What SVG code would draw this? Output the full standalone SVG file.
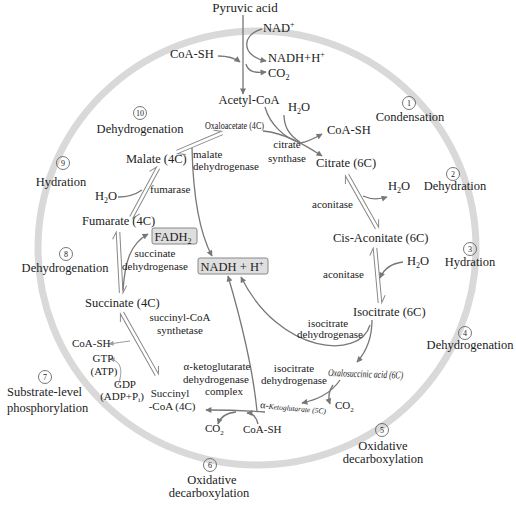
<svg xmlns="http://www.w3.org/2000/svg" width="516" height="506" viewBox="0 0 516 506">
<style>
text{font-family:"Liberation Serif","Times New Roman",serif;fill:#222}
.m{font-size:12.5px}
.s{font-size:11px}
.mid{text-anchor:middle}
.num{font-size:8px;text-anchor:middle}
.nc{fill:none;stroke:#555;stroke-width:0.8}
.ar{fill:none;stroke:#777;stroke-width:1.3;marker-end:url(#ah)}
.ln{fill:none;stroke:#777;stroke-width:1.3}
.lt{fill:none;stroke:#999;stroke-width:1;marker-end:url(#ahl)}
.hp{fill:none;stroke:#888;stroke-width:1}
.box{fill:#dedede;stroke:#888;stroke-width:1}
</style>
<defs>
<marker id="ah" viewBox="0 0 10 10" refX="9" refY="5" markerWidth="7" markerHeight="6" markerUnits="userSpaceOnUse" orient="auto"><path d="M0,0 L10,5 L0,10 z" fill="#777"/></marker>
<marker id="ahl" viewBox="0 0 10 10" refX="9" refY="5" markerWidth="6" markerHeight="5" markerUnits="userSpaceOnUse" orient="auto"><path d="M0,0 L10,5 L0,10 z" fill="#999"/></marker>
<path id="hp" d="M0,-1.6 H1 M0,1.6 H1"/>
</defs>

<ellipse cx="257" cy="248" rx="219" ry="217" fill="none" stroke="#d9d9d9" stroke-width="7"/>

<g id="connectors">
<!-- pyruvate -->
<path class="ar" d="M243,15 V94"/>
<path class="ar" d="M218,56 Q232,56 240,62"/>
<path class="ar" d="M262,29 C242,34 240,56 266,61"/>
<path class="ar" d="M246,64 C248,72 255,73 266,72"/>
<!-- citrate synthase -->
<path class="ln" d="M265,107 C270,125 285,138 300,143"/>
<path class="ln" d="M284,115 C284,128 290,136 300,142"/>
<path class="ar" d="M263,131 C285,133 305,145 322,156"/>
<path class="ar" d="M300,143 C308,142 315,138 322,134"/>
<!-- harpoon pairs -->
<g class="hp">
<g transform="translate(177,152) rotate(-22.9)"><path d="M0,-1.8 H49 l-7,-4 M49,1.8 H0 l7,4"/></g>
<g transform="translate(158,168) rotate(118.4)"><path d="M0,-1.8 H56 l-7,-4 M56,1.8 H0 l7,4"/></g>
<g transform="translate(118,232) rotate(87)"><path d="M0,-1.8 H61 l-7,-4 M61,1.8 H0 l7,4"/></g>
<g transform="translate(122,313) rotate(60.6)"><path d="M0,-1.8 H71 l-7,-4 M71,1.8 H0 l7,4"/></g>
<g transform="translate(347,175) rotate(60.5)"><path d="M0,-1.8 H61 l-7,-4 M61,1.8 H0 l7,4"/></g>
<g transform="translate(375,248) rotate(84.8)"><path d="M0,-1.8 H55 l-7,-4 M55,1.8 H0 l7,4"/></g>
</g>
<!-- side arrows -->
<path class="ar" d="M363,196 Q374,201 387,197"/>
<path class="ar" d="M403,262 Q386,264 380,278"/>
<path class="ln" d="M118,197 Q132,197 142,190"/>
<path class="ar" d="M123,290 C125,262 130,244 148,234"/>
<path class="ar" d="M192,148 C193,192 198,230 212,256"/>
<path class="ar" d="M257,411 C252,360 238,310 228,276"/>
<path class="ar" d="M370,325 C360,360 280,355 241,277"/>
<path class="ar" d="M372,320 C372,340 366,352 357,362"/>
<path class="ar" d="M340,380 C330,395 315,400 302,403"/>
<path class="ar" d="M333,385 C328,392 328,398 330,404"/>
<path class="ar" d="M265,412 Q236,410 206,410"/>
<path class="ar" d="M236,412 C225,413 220,418 218,424"/>
<path class="ar" d="M258,424 C256,416 252,413 247,413"/>
<path class="lt" d="M118,385 C123,372 122,361 110,359"/>
<path class="lt" d="M130,341 C122,342 116,343 109,344"/>
</g>

<g id="pyruvic"><text class="mid" x="245" y="12" style="font-size:13px">Pyruvic acid</text></g>
<g id="nad1"><text class="m" x="263" y="32">NAD<tspan dy="-5" font-size="8">+</tspan></text></g>
<g id="coash1"><text class="m" x="170" y="58">CoA-SH</text></g>
<g id="nadh1"><text class="m" x="268" y="62">NADH+H<tspan dy="-5" font-size="8">+</tspan></text></g>
<g id="co2a"><text class="m" x="268" y="77">CO<tspan dy="3" font-size="8">2</tspan></text></g>
<g id="acetylcoa"><text class="m mid" x="249" y="104">Acetyl-CoA</text></g>
<g id="h2o1"><text class="m" x="288" y="111">H<tspan dy="3" font-size="8">2</tspan><tspan dy="-3">O</tspan></text></g>
<g id="step1"><circle class="nc" cx="409" cy="103" r="6.5"/><text class="num" x="409" y="106">1</text><text class="m mid" x="410" y="121">Condensation</text></g>
<g id="step10"><circle class="nc" cx="140" cy="113" r="6.5"/><text class="num" x="140" y="116">10</text><text class="m mid" x="140" y="133">Dehydrogenation</text></g>
<g id="oxaloacetate"><text x="205" y="129" style="font-size:10px" textLength="59" lengthAdjust="spacingAndGlyphs">Oxaloacetate (4C)</text></g>
<g id="coash2"><text class="m" x="327" y="134">CoA-SH</text></g>
<g id="citsyn"><text class="s mid" x="287" y="148">citrate</text><text class="s mid" x="287" y="162">synthase</text></g>
<g id="malate"><text class="m" x="126" y="163">Malate (4C)</text></g>
<g id="mdh"><text class="s" x="193" y="158">malate</text><text class="s" x="193" y="170">dehydrogenase</text></g>
<g id="citrate"><text class="m" x="316" y="167">Citrate (6C)</text></g>
<g id="step9"><circle class="nc" cx="63" cy="163" r="6.5"/><text class="num" x="63" y="166">9</text><text class="m mid" x="61" y="186">Hydration</text></g>
<g id="step2"><circle class="nc" cx="453" cy="174" r="6.5"/><text class="num" x="453" y="177">2</text><text class="m mid" x="455" y="190">Dehydration</text></g>
<g id="h2o2"><text class="m" x="388" y="190">H<tspan dy="3" font-size="8">2</tspan><tspan dy="-3">O</tspan></text></g>
<g id="h2o3"><text class="m" x="95" y="200">H<tspan dy="3" font-size="8">2</tspan><tspan dy="-3">O</tspan></text></g>
<g id="fumarase"><text class="s" x="150" y="193">fumarase</text></g>
<g id="aconitase1"><text class="s" x="312" y="208">aconitase</text></g>
<g id="fumarate"><text class="m" x="82" y="225">Fumarate (4C)</text></g>
<g id="fadh2"><rect class="box" x="152" y="228" width="45" height="16" rx="2"/><text class="m mid" x="173" y="241">FADH<tspan dy="3" font-size="8">2</tspan></text></g>
<g id="cisaconitate"><text class="m" x="333" y="242">Cis-Aconitate (6C)</text></g>
<g id="step8"><circle class="nc" cx="66" cy="254" r="6.5"/><text class="num" x="66" y="257">8</text><text class="m mid" x="65" y="272">Dehydrogenation</text></g>
<g id="sdh"><text class="s mid" x="155" y="257">succinate</text><text class="s mid" x="155" y="270">dehydrogenase</text></g>
<g id="nadh2"><rect class="box" x="198" y="258" width="70" height="16" rx="2"/><text class="m mid" x="232" y="271">NADH + H<tspan dy="-5" font-size="8">+</tspan></text></g>
<g id="step3"><circle class="nc" cx="470" cy="249" r="6.5"/><text class="num" x="470" y="252">3</text><text class="m mid" x="470" y="266">Hydration</text></g>
<g id="h2o4"><text class="m" x="407" y="265">H<tspan dy="3" font-size="8">2</tspan><tspan dy="-3">O</tspan></text></g>
<g id="aconitase2"><text class="s" x="323" y="278">aconitase</text></g>
<g id="succinate"><text class="m" x="85" y="307">Succinate (4C)</text></g>
<g id="isocitrate"><text class="m" x="353" y="316">Isocitrate (6C)</text></g>
<g id="scs"><text class="s mid" x="180" y="321">succinyl-CoA</text><text class="s mid" x="180" y="334">synthetase</text></g>
<g id="idh1"><text class="s mid" x="328" y="327">isocitrate</text><text class="s mid" x="330" y="338">dehydrogenase</text></g>
<g id="step4"><circle class="nc" cx="465" cy="333" r="6.5"/><text class="num" x="465" y="336">4</text><text class="m mid" x="470" y="349">Dehydrogenation</text></g>
<g id="coash3"><text class="s" x="72" y="347">CoA-SH</text></g>
<g id="gtp"><text class="s mid" x="103" y="362">GTP</text><text class="s mid" x="104" y="375">(ATP)</text></g>
<g id="akgdh"><text class="s mid" x="217" y="370">α-ketoglutarate</text><text class="s mid" x="216" y="383">dehydrogenase</text><text class="s mid" x="224" y="395">complex</text></g>
<g id="idh2"><text class="s mid" x="294" y="372">isocitrate</text><text class="s mid" x="294" y="384">dehydrogenase</text></g>
<g id="oxalosuccinic"><text x="328" y="376" transform="rotate(2 328 376)" style="font-size:10.5px;font-style:italic" textLength="75" lengthAdjust="spacingAndGlyphs">Oxalosuccinic acid (6C)</text></g>
<g id="step7"><circle class="nc" cx="45" cy="377" r="6.5"/><text class="num" x="45" y="380">7</text><text class="m" x="7" y="396">Substrate-level</text><text class="m" x="7" y="412">phosphorylation</text></g>
<g id="gdp"><text class="s mid" x="125" y="388">GDP</text><text class="s mid" x="122" y="400">(ADP+P<tspan dy="2" font-size="7">i</tspan><tspan dy="-2">)</tspan></text></g>
<g id="succinylcoa"><text class="s mid" x="170" y="397">Succinyl</text><text class="s mid" x="172" y="410">-CoA (4C)</text></g>
<g id="akg"><text x="260" y="408" transform="rotate(5 260 408)" style="font-size:10px">α-<tspan style="font-size:7.5px;font-style:italic">Ketoglutarate (5C)</tspan></text></g>
<g id="co2b"><text class="s" x="335" y="409">CO<tspan dy="3" font-size="7">2</tspan></text></g>
<g id="co2c"><text class="s" x="205" y="432">CO<tspan dy="3" font-size="7">2</tspan></text></g>
<g id="coash4"><text class="s" x="243" y="433">CoA-SH</text></g>
<g id="step5"><circle class="nc" cx="382" cy="430" r="6.5"/><text class="num" x="382" y="433">5</text><text class="m mid" x="383" y="450">Oxidative</text><text class="m mid" x="383" y="463">decarboxylation</text></g>
<g id="step6"><circle class="nc" cx="210" cy="465" r="6.5"/><text class="num" x="210" y="468">6</text><text class="m mid" x="212" y="484">Oxidative</text><text class="m mid" x="209" y="497">decarboxylation</text></g>
</svg>
